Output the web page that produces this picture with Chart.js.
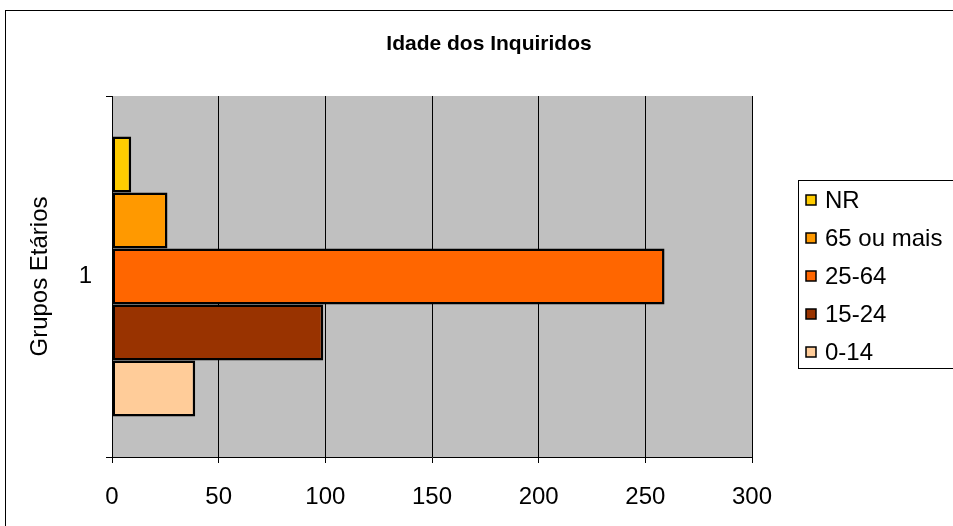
<!DOCTYPE html>
<html>
<head>
<meta charset="utf-8">
<script src="https://cdn.jsdelivr.net/npm/chart.js@4/dist/chart.umd.min.js"></script>
<style>
  html, body { margin: 0; padding: 0; background: #fff; }
  #wrap { width: 953px; height: 526px; }
</style>
</head>
<body>
<div id="wrap"><canvas id="myChart" width="953" height="526"></canvas></div>
<script>
'use strict';

var categories = ["1"];
var seriesNames = ["NR", "65 ou mais", "25-64", "15-24", "0-14"];
var seriesColors = ['#FFCC00', '#FF9900', '#FF6600', '#993300', '#FFCC99'];
var valuesNR = [9];
var values65 = [26];
var values25 = [259];
var values15 = [99];
var values0 = [39];
var xTicks = [0, 50, 100, 150, 200, 250, 300];

var FONT = 'Arial, "Liberation Sans", sans-serif';

// frame, grey plot area, title and the boxed legend
var decor = {
  id: 'decor',
  beforeDraw: function(chart) {
    var c = chart.ctx, a = chart.chartArea;
    c.save();
    c.fillStyle = '#C0C0C0';
    c.fillRect(a.left, a.top, a.right - a.left, a.bottom - a.top);
    c.strokeStyle = '#000';
    c.lineWidth = 1;
    c.strokeRect(5.5, 10.5, 1000, 600);
    c.restore();
  },
  afterDraw: function(chart) {
    var c = chart.ctx;
    c.save();
    c.fillStyle = '#000';
    c.textAlign = 'center';
    c.textBaseline = 'middle';
    c.font = 'bold 21px ' + FONT;
    c.fillText('Idade dos Inquiridos', 489, 44);

    c.strokeStyle = '#000';
    c.lineWidth = 1;
    c.strokeRect(798.5, 180.5, 200, 188);
    c.font = '24px ' + FONT;
    c.textAlign = 'left';
    chart.data.datasets.forEach(function(ds, i) {
      var y = 200 + i * 38;
      c.fillStyle = ds.backgroundColor;
      c.fillRect(806, y - 5, 10, 10);
      c.strokeStyle = '#000';
      c.lineWidth = 1.5;
      c.strokeRect(806, y - 5, 10, 10);
      c.fillStyle = '#000';
      c.fillText(ds.label, 825, y + 1);
    });
    c.restore();
  }
};

var allValues = [valuesNR, values65, values25, values15, values0];

var ctx = document.getElementById('myChart').getContext('2d');

var chart = new Chart(ctx, {
  type: 'bar',
  data: {
    labels: categories,
    datasets: seriesNames.map(function(name, i) {
      return {
        label: name,
        data: allValues[i],
        backgroundColor: seriesColors[i],
        borderColor: '#000',
        borderWidth: 2.5,
        borderSkipped: false,
        categoryPercentage: 0.775,
        barPercentage: 1
      };
    })
  },
  options: {
    indexAxis: 'y',
    responsive: false,
    animation: false,
    devicePixelRatio: 1,
    layout: { padding: { top: 96, right: 201, left: 0, bottom: 0 } },
    plugins: {
      legend: { display: false },
      title: { display: false },
      tooltip: { enabled: false }
    },
    scales: {
      x: {
        min: 0,
        max: 300,
        afterBuildTicks: function(scale) {
          scale.ticks = xTicks.map(function(v) { return { value: v }; });
        },
        afterFit: function(scale) { scale.height = 69; },
        grid: { color: '#000', lineWidth: 1, tickLength: 6, drawOnChartArea: true },
        border: { display: true, color: '#000', width: 1 },
        ticks: { color: '#000', padding: 20, font: { family: FONT, size: 24 } }
      },
      y: {
        afterFit: function(scale) { scale.width = 112; },
        grid: { offset: true, color: '#000', tickLength: 6, drawOnChartArea: false },
        border: { display: true, color: '#000', width: 1 },
        ticks: { color: '#000', padding: 14, font: { family: FONT, size: 24 } },
        title: {
          display: true,
          text: 'Grupos Etários',
          color: '#000',
          padding: { top: 26, bottom: 0 },
          font: { family: FONT, size: 24 }
        }
      }
    }
  },
  plugins: [decor]
});
</script>
</body>
</html>
